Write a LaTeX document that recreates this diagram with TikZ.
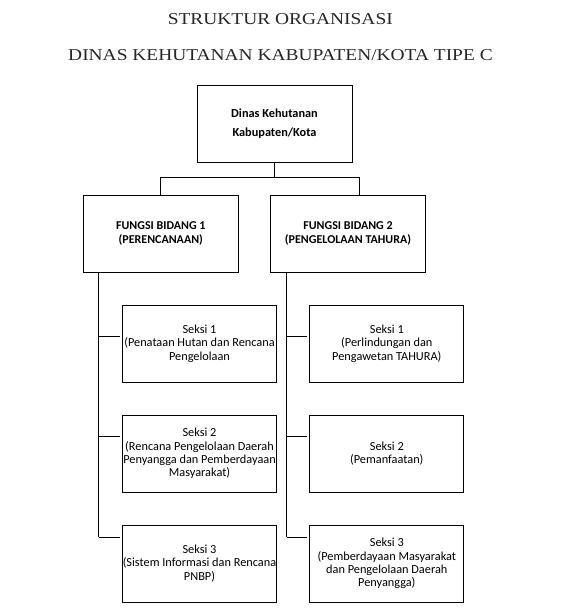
\documentclass[tikz,border=0pt]{standalone}
\usepackage{fontspec}
\setmainfont{Liberation Serif}
\newfontfamily\boxfont{Carlito}
\begin{document}
\begin{tikzpicture}[x=1pt,y=-1pt,
  org/.style={draw=black, line width=0.9pt, minimum width=155pt, minimum height=77pt,
    align=center, inner sep=0pt, font=\boxfont\fontsize{12.3}{13.4}\selectfont},
  orgbold/.style={org, font=\boxfont\bfseries\fontsize{12}{13.7}\selectfont},
  seksi/.style={org, minimum width=154pt},
  link/.style={draw=black, line width=0.9pt},
  titletext/.style={inner sep=0pt, text=black!85, font=\fontsize{16.6}{20}\selectfont}
]
\useasboundingbox (0,0) rectangle (569,609);
\fill[white] (0,0) rectangle (569,609);

\node[titletext] (t1) at (280.3,19) {\scalebox{1.17}[1]{STRUKTUR ORGANISASI}};
\node[titletext] (t2) at (280.5,55) {\scalebox{1.17}[1]{DINAS KEHUTANAN KABUPATEN/KOTA TIPE C}};

\node[orgbold, font=\boxfont\bfseries\fontsize{12.3}{19}\selectfont] (top) at (274.5,123.5) {Dinas Kehutanan\\Kabupaten/Kota};
\node[orgbold] (f1) at (160.8,233.5) {FUNGSI BIDANG 1\\(PERENCANAAN)};
\node[orgbold] (f2) at (348,233.5) {FUNGSI BIDANG 2\\(PENGELOLAAN TAHURA)};

\node[seksi] (l1) at (199.5,343.5) {Seksi 1\\(Penataan Hutan dan Rencana\\Pengelolaan};
\node[seksi] (l2) at (199.5,453.5) {Seksi 2\\(Rencana Pengelolaan Daerah\\Penyangga dan Pemberdayaan\\Masyarakat)};
\node[seksi] (l3) at (199.5,563.5) {Seksi 3\\(Sistem Informasi dan Rencana\\PNBP)};

\node[seksi] (r1) at (386.8,343.5) {Seksi 1\\(Perlindungan dan\\Pengawetan TAHURA)};
\node[seksi] (r2) at (386.8,453.5) {Seksi 2\\(Pemanfaatan)};
\node[seksi] (r3) at (386.8,563.5) {Seksi 3\\(Pemberdayaan Masyarakat\\dan Pengelolaan Daerah\\Penyangga)};

% top connectors
\coordinate (bus) at (274.5,177);
\coordinate (busL) at (160,177);
\coordinate (busR) at (359,177);
\draw[link] (top.south) -- (bus);
\draw[link] (f1.north -| busL) -- (busL) -- (busR) -- (f2.north -| busR);

% left column
\coordinate (lv) at (98.7,272);
\coordinate (lb1) at (98.7,336.7);
\coordinate (lb2) at (98.7,436.7);
\coordinate (lb3) at (98.7,537.3);
\draw[link] (lv) -- (lb3);
\draw[link, shorten >=2pt] (lb1) -- (l1.west |- lb1);
\draw[link, shorten >=2pt] (lb2) -- (l2.west |- lb2);
\draw[link, shorten >=2pt] (lb3) -- (l3.west |- lb3);

% right column
\coordinate (rv) at (286.7,272);
\coordinate (rb1) at (286.7,336.7);
\coordinate (rb2) at (286.7,436.7);
\coordinate (rb3) at (286.7,537.3);
\draw[link] (rv) -- (rb3);
\draw[link, shorten >=2pt] (rb1) -- (r1.west |- rb1);
\draw[link, shorten >=2pt] (rb2) -- (r2.west |- rb2);
\draw[link, shorten >=2pt] (rb3) -- (r3.west |- rb3);
\end{tikzpicture}
\end{document}
